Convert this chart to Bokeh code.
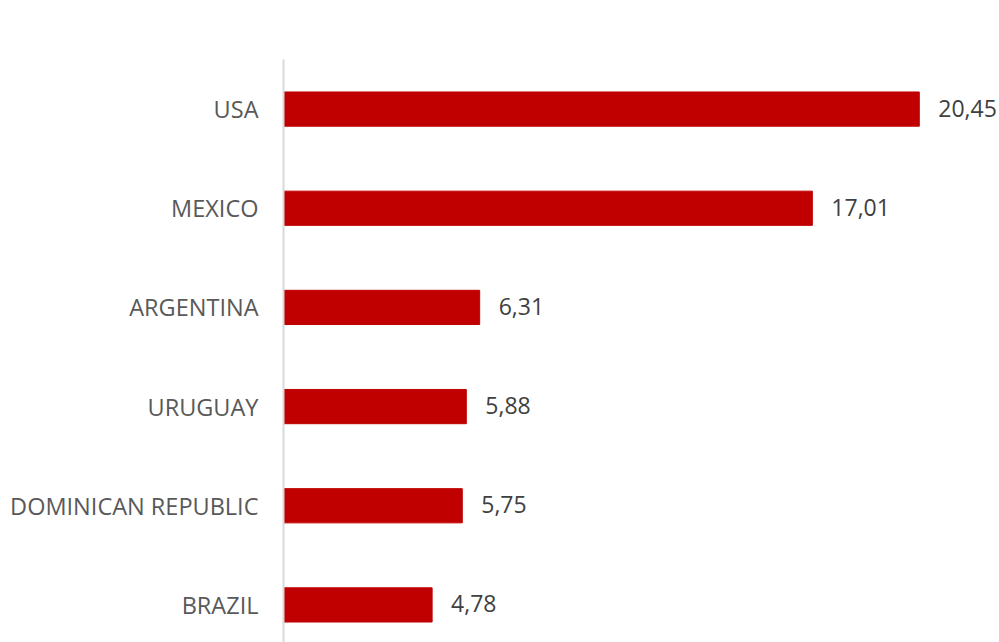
from bokeh.plotting import figure
from bokeh.models import ColumnDataSource, FixedTicker, Range1d
from bokeh.core.properties import value
from bokeh.embed import file_html
from bokeh.resources import INLINE

countries = ["USA", "MEXICO", "ARGENTINA", "URUGUAY", "DOMINICAN REPUBLIC", "BRAZIL"]
values = [20.45, 17.01, 6.31, 5.88, 5.75, 4.78]
value_labels = ["20,45", "17,01", "6,31", "5,88", "5,75", "4,78"]

n = len(countries)
pos = [n - 1 - i for i in range(n)]

src = ColumnDataSource(dict(y=pos, v=values, lab=value_labels))

FONT = "Open Sans"

p = figure(width=999, height=642, output_backend="svg", toolbar_location=None,
           x_range=Range1d(0, 23.03), y_range=Range1d(-0.379, n - 0.5),
           min_border_left=283, min_border_right=0, min_border_top=59, min_border_bottom=0)

p.hbar(y="y", right="v", left=0, height=0.345, source=src,
       fill_color="#C00000", line_color="#C00000")
p.text(x="v", y="y", text="lab", source=src, x_offset=19, y_offset=-1, text_baseline="middle",
       text_align="left", text_font=value(FONT), text_font_size="23px",
       text_color="#404040")

p.xaxis.visible = False
p.yaxis.ticker = FixedTicker(ticks=pos)
p.yaxis.major_label_overrides = {pos[i]: countries[i] for i in range(n)}
p.yaxis.major_label_text_font = FONT
p.yaxis.major_label_text_font_size = "23.5px"
p.yaxis.major_label_text_color = "#595959"
p.yaxis.major_tick_line_color = None
p.yaxis.minor_tick_line_color = None
p.yaxis.major_tick_out = 0
p.yaxis.major_label_standoff = 25
p.yaxis.axis_line_color = "#D9D9D9"
p.yaxis.axis_line_width = 2
p.grid.visible = False
p.outline_line_color = None

open("out.html", "w").write(file_html(p, INLINE))
